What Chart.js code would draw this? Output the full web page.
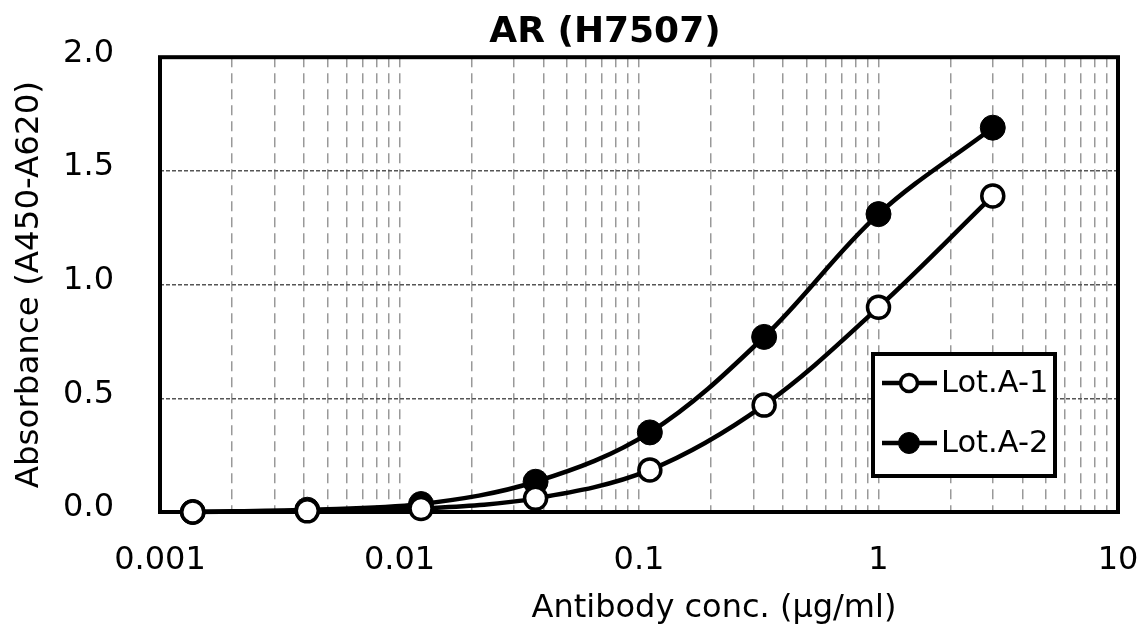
<!DOCTYPE html>
<html>
<head>
<meta charset="utf-8">
<script src="https://cdn.jsdelivr.net/npm/chart.js@4"></script>
<style>
  html, body { margin: 0; padding: 0; background: #fff; }
  #wrap { width: 1145px; height: 624px; }
</style>
</head>
<body>
<div id="wrap"><canvas id="myChart" width="1145" height="624"></canvas></div>
<script>
// values
const concentrations = [0.00137, 0.00412, 0.0123, 0.037, 0.111, 0.333, 1, 3];
const lotA1 = [0.0, 0.005, 0.015, 0.06, 0.185, 0.47, 0.90, 1.39];
const lotA2 = [0.0, 0.01, 0.035, 0.133, 0.35, 0.77, 1.31, 1.69];
const seriesLabels = ['Lot.A-1', 'Lot.A-2'];
const xLabelTicks = [0.001, 0.01, 0.1, 1, 10];
const gridSteps = [1, 2, 3, 4, 5, 6, 7, 8, 9];
const yTicks = [0, 0.5, 1.0, 1.5, 2.0];
const xTitle = 'Antibody conc. (μg/ml)';

const FONT = "'DejaVu Sans', Verdana, sans-serif";

// minor log gridlines: 1..9 in every decade
const xGridTicks = [];
xLabelTicks.forEach((d, i) => {
  if (i === xLabelTicks.length - 1) {
    xGridTicks.push(d);
    return;
  }
  gridSteps.forEach((m) => xGridTicks.push(+(d * m).toPrecision(3)));
});

const toPoints = (vals) => vals.map((v, i) => ({ x: concentrations[i], y: v }));

// the original titles are not centred on the plot, shift them a bit
const titleShift = {
  id: 'titleShift',
  afterLayout(chart) {
    const t = chart.titleBlock;
    if (t) t.left = 92;
  },
  afterDraw(chart) {
    const { ctx } = chart;
    ctx.save();
    ctx.fillStyle = '#000';
    ctx.font = '32px ' + FONT;
    ctx.textAlign = 'center';
    ctx.textBaseline = 'alphabetic';
    ctx.fillText(xTitle, 714, 617);
    ctx.restore();
  },
};

const framePlugin = {
  id: 'frame',
  beforeDatasetsDraw(chart) {
    const { ctx, chartArea: a } = chart;
    ctx.save();
    ctx.strokeStyle = '#000';
    ctx.lineWidth = 4;
    ctx.strokeRect(a.left, a.top, a.right - a.left, a.bottom - a.top);
    ctx.restore();
  },
};

const legendBox = {
  id: 'legendBox',
  afterDraw(chart) {
    const { ctx, chartArea: a } = chart;
    const right = a.right - 63;
    const bottom = a.bottom - 36;
    const left = right - 182;
    const top = bottom - 122;
    ctx.save();
    ctx.fillStyle = '#fff';
    ctx.fillRect(left, top, right - left, bottom - top);
    ctx.lineWidth = 4;
    ctx.strokeStyle = '#000';
    ctx.strokeRect(left, top, right - left, bottom - top);

    chart.data.datasets.forEach((ds, i) => {
      const y = top + 29 + i * 60;
      ctx.lineWidth = 4.5;
      ctx.beginPath();
      ctx.moveTo(left + 9, y);
      ctx.lineTo(left + 64, y);
      ctx.stroke();
      ctx.beginPath();
      ctx.arc(left + 36, y, i === 0 ? 8.5 : 10.5, 0, Math.PI * 2);
      ctx.fillStyle = ds.pointBackgroundColor;
      ctx.fill();
      ctx.lineWidth = i === 0 ? 3.5 : 1;
      ctx.stroke();
      ctx.fillStyle = '#000';
      ctx.font = '30.5px ' + FONT;
      ctx.textBaseline = 'middle';
      ctx.textAlign = 'left';
      ctx.fillText(ds.label, left + 68, y + 1);
    });
    ctx.restore();
  },
};

const ctx = document.getElementById('myChart');

new Chart(ctx, {
  type: 'line',
  data: {
    datasets: [
      {
        label: seriesLabels[0],
        data: toPoints(lotA1),
        borderColor: '#000',
        borderWidth: 4.5,
        tension: 0.35,
        pointRadius: 11,
        pointBorderWidth: 3.5,
        pointBackgroundColor: '#fff',
        pointBorderColor: '#000',
        clip: false,
      },
      {
        label: seriesLabels[1],
        data: toPoints(lotA2),
        borderColor: '#000',
        borderWidth: 4.5,
        tension: 0.35,
        pointRadius: 12.5,
        pointBorderWidth: 1,
        pointBackgroundColor: '#000',
        pointBorderColor: '#000',
        clip: false,
      },
    ],
  },
  options: {
    responsive: false,
    animation: false,
    layout: { padding: { left: 0, right: 27, top: 0, bottom: 0 } },
    plugins: {
      legend: { display: false },
      tooltip: { enabled: false },
      title: {
        display: true,
        text: 'AR (H7507)',
        color: '#000',
        font: { family: FONT, size: 36, weight: 'bold' },
        padding: { top: 11, bottom: 3 },
      },
    },
    scales: {
      x: {
        type: 'logarithmic',
        min: 0.001,
        max: 10,
        afterBuildTicks: (scale) => {
          scale.ticks = xGridTicks.map((v) => ({ value: v }));
        },
        afterFit: (scale) => {
          scale.height = 112;
          scale.paddingLeft = 0;
          scale.paddingRight = 0;
        },
        ticks: {
          autoSkip: false,
          maxRotation: 0,
          padding: 29,
          color: '#000',
          font: { family: FONT, size: 32 },
          callback: (value) =>
            xLabelTicks.some((d) => Math.abs(d - value) < d * 1e-6) ? String(value) : '',
        },
        grid: { color: '#999', lineWidth: 1.5, drawTicks: false },
        border: { display: false, dash: [10, 6] },
      },
      y: {
        min: 0,
        max: 2,
        afterBuildTicks: (scale) => {
          scale.ticks = yTicks.map((v) => ({ value: v }));
        },
        afterFit: (scale) => {
          scale.width = 160;
          scale.paddingTop = 0;
          scale.paddingBottom = 0;
        },
        ticks: {
          padding: 46,
          labelOffset: -4,
          color: '#000',
          font: { family: FONT, size: 32 },
          callback: (value) => value.toFixed(1),
        },
        grid: { color: '#555', lineWidth: 1.5, drawTicks: false },
        border: { display: false, dash: [4, 2] },
        title: {
          display: true,
          text: 'Absorbance (A450-A620)',
          color: '#000',
          font: { family: FONT, size: 32.5 },
          padding: { top: 10, bottom: 0 },
        },
      },
    },
  },
  plugins: [titleShift, framePlugin, legendBox],
});
</script>
</body>
</html>
